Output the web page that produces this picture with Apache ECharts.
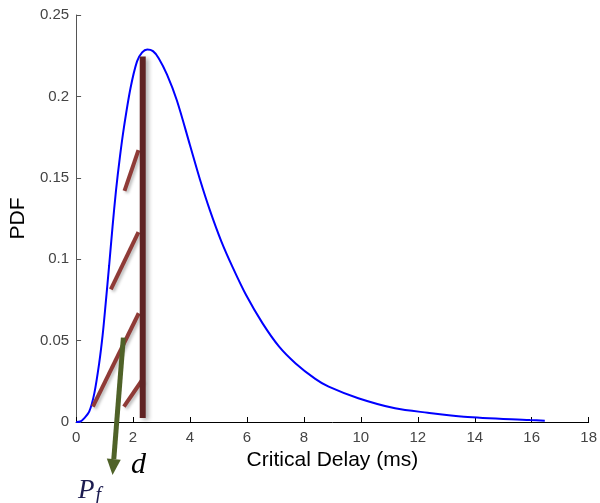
<!DOCTYPE html>
<html>
<head>
<meta charset="utf-8">
<script src="https://cdn.jsdelivr.net/npm/echarts@6/dist/echarts.min.js"></script>
<style>html,body{margin:0;padding:0;background:#fff}#c{width:600px;height:503px}</style>
</head>
<body>
<div id="c"></div>
<script>
// Critical delay (ms) and PDF values
const delayX = [0, 0.15, 0.29, 0.46, 0.64, 0.81, 0.93, 1.04, 1.16, 1.28, 1.4, 1.54, 1.68, 1.91, 2.14, 2.32, 2.5, 2.7, 2.9, 3.19, 3.54, 4.0, 4.35, 4.7, 5.1, 5.5, 5.97, 6.55, 7.13, 7.71, 8.4, 8.87, 9.91, 11.2, 12.35, 13.62, 15.94, 16.46];
const pdfY   = [0, 0.0003, 0.0024, 0.0063, 0.0176, 0.036, 0.053, 0.073, 0.096, 0.12, 0.142, 0.163, 0.181, 0.205, 0.2215, 0.227, 0.2288, 0.2278, 0.2235, 0.2135, 0.1975, 0.17, 0.149, 0.13, 0.111, 0.095, 0.078, 0.0606, 0.0463, 0.036, 0.0265, 0.0217, 0.0146, 0.0084, 0.0057, 0.0033, 0.0012, 0.0008];

// threshold d (vertical line) in data units
const thresholdD = 2.34;
const thresholdTop = 0.2245;
const thresholdBottom = 0.0025;

// hatch segments marking the P_f area: [x1, y1, x2, y2]
const hatchSegs = [
  [1.70, 0.142, 2.19, 0.167],
  [1.22, 0.0815, 2.19, 0.1167],
  [0.59, 0.0094, 2.20, 0.0668],
  [1.68, 0.0094, 2.32, 0.0258]
];

// arrow to P_f label: [xStart, yStart, xEnd, yEnd]
const pfArrow = [1.66, 0.0518, 1.28, -0.0326];

// axis ticks
const xTicks = { min: 0, max: 18, interval: 2 };
const yTicks = { min: 0, max: 0.25, interval: 0.05 };

const curve = delayX.map((x, i) => [x, pdfY[i]]);

const series = [];
series.push({
  type: 'line', data: curve, smooth: 0.3, showSymbol: false, clip: false,
  lineStyle: { color: '#0000ff', width: 2 }, z: 3
});
hatchSegs.forEach(s => {
  series.push({
    type: 'line', data: [[s[0], s[1]], [s[2], s[3]]], showSymbol: false, clip: false,
    lineStyle: { color: '#8f3b37', width: 4, cap: 'butt',
      shadowColor: 'rgba(0,0,0,0.25)', shadowBlur: 3, shadowOffsetX: 2, shadowOffsetY: 2 },
    z: 4
  });
});
series.push({
  type: 'line', data: [[thresholdD, thresholdBottom], [thresholdD, thresholdTop]], showSymbol: false, clip: false,
  lineStyle: { color: '#5f2323', width: 6, cap: 'butt',
    shadowColor: 'rgba(0,0,0,0.3)', shadowBlur: 4, shadowOffsetX: 3, shadowOffsetY: 2 },
  z: 5
});
series.push({
  type: 'custom', clip: false, z: 6, silent: true,
  data: [pfArrow],
  renderItem: function (params, api) {
    const p1 = api.coord([api.value(0), api.value(1)]);
    const p2 = api.coord([api.value(2), api.value(3)]);
    const dx = p2[0] - p1[0], dy = p2[1] - p1[1];
    const len = Math.sqrt(dx * dx + dy * dy);
    const ux = dx / len, uy = dy / len;
    const headLen = 16, headHalf = 7;
    const bx = p2[0] - ux * headLen, by = p2[1] - uy * headLen;
    const nx = -uy, ny = ux;
    return {
      type: 'group',
      children: [
        { type: 'line', shape: { x1: p1[0], y1: p1[1], x2: bx, y2: by },
          style: { stroke: '#4f6228', lineWidth: 5 } },
        { type: 'polygon', shape: { points: [[p2[0], p2[1]], [bx + nx * headHalf, by + ny * headHalf], [bx - nx * headHalf, by - ny * headHalf]] },
          style: { fill: '#4f6228' } }
      ]
    };
  }
});

const chart = echarts.init(document.getElementById('c'), null, { renderer: 'canvas' });
chart.setOption({
  animation: false,
  grid: { left: 75, right: 7, top: 15, bottom: 81, containLabel: false },
  xAxis: {
    type: 'value', min: xTicks.min, max: xTicks.max, interval: xTicks.interval,
    name: 'Critical Delay (ms)', nameLocation: 'middle', nameGap: 19,
    nameTextStyle: { fontFamily: 'Liberation Sans, Arial', fontSize: 21, color: '#000' },
    axisLine: { lineStyle: { color: '#000', width: 1 } },
    axisTick: { inside: true, length: 5, lineStyle: { color: '#000' } },
    axisLabel: { fontFamily: 'Liberation Sans, Arial', fontSize: 15, color: '#444', margin: 8 },
    splitLine: { show: false }
  },
  yAxis: {
    type: 'value', min: yTicks.min, max: yTicks.max, interval: yTicks.interval,
    name: 'PDF', nameLocation: 'middle', nameGap: 44, nameRotate: 90,
    nameTextStyle: { fontFamily: 'Liberation Sans, Arial', fontSize: 21, color: '#000' },
    axisLine: { show: true, lineStyle: { color: '#555', width: 1 } },
    axisTick: { show: true, inside: true, length: 5, lineStyle: { color: '#555' } },
    axisLabel: { fontFamily: 'Liberation Sans, Arial', fontSize: 15, color: '#444', margin: 7 },
    splitLine: { show: false }
  },
  series: series,
  graphic: [
    { type: 'text', left: 131, top: 450,
      style: { text: 'd', font: 'italic 30px "Liberation Serif", "DejaVu Serif", serif', fill: '#000' } },
    { type: 'text', left: 78, top: 477,
      style: { text: '{p|P}{f|f}', fill: '#1c1c50',
        rich: { p: { font: 'italic 27px "Liberation Serif", serif', fill: '#1c1c50' },
                f: { font: 'italic 20px "Liberation Serif", serif', fill: '#1c1c50', padding: [10, 0, 0, 1] } } } }
  ]
});
</script>
</body>
</html>
